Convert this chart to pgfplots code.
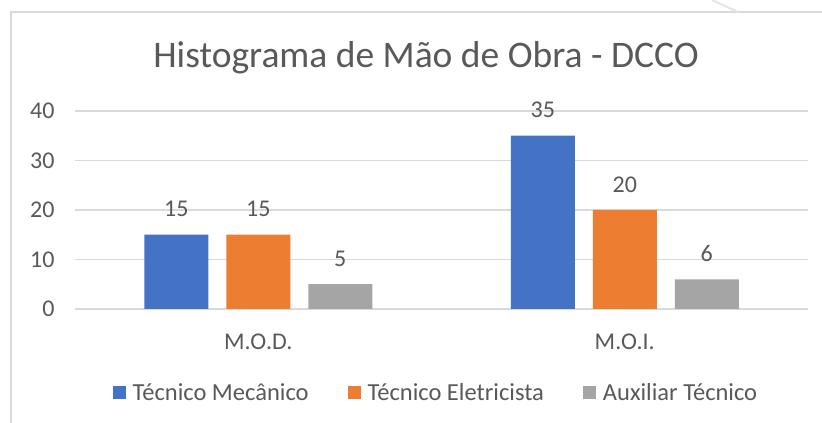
\documentclass[border=0pt]{standalone}
\usepackage{fontspec}
\setmainfont{Carlito}
\usepackage{pgfplots}
\pgfplotsset{compat=1.18}
\definecolor{cblue}{HTML}{4472C4}
\definecolor{corange}{HTML}{ED7D31}
\definecolor{cgray}{HTML}{A5A5A5}
\definecolor{ctext}{HTML}{595959}
\definecolor{cgrid}{HTML}{D9D9D9}
\begin{document}
\begin{tikzpicture}[x=1pt,y=1pt]
\useasboundingbox (0,0) rectangle (822,423);
\fill[white] (0,0) rectangle (822,423);
\draw[cgrid, line width=1.2pt] (11,0) -- (11,411) -- (822,411);
\draw[black!10, line width=2pt] (712,423) -- (738,411);
\begin{axis}[
  at={(75pt,114pt)}, anchor=south west,
  scale only axis, width=733pt, height=198pt,
  ymin=0, ymax=40, xmin=-0.5, xmax=1.5,
  ytick={0,10,20,30,40}, xtick={0,1}, xticklabels={M.O.D.,M.O.I.},
  ymajorgrids, grid style={cgrid, line width=1.2pt},
  axis line style={draw=none}, major tick style={draw=none},
  ybar=18pt, bar width=64pt,
  tick label style={font=\fontsize{24}{28}\selectfont, text=ctext},
  /pgf/number format/assume math mode=true,
  yticklabel style={xshift=-17pt},
  xticklabel style={yshift=-17pt},
  nodes near coords,
  nodes near coords style={font=\fontsize{24}{28}\selectfont, text=ctext, inner sep=0pt, anchor=south, yshift=17.5pt},
  legend columns=3,
  legend style={at={(0.491,-0.424)}, anchor=center, draw=none, fill=none,
    font=\fontsize{24.5}{28}\selectfont, text=ctext, nodes={inner sep=0pt},
    /tikz/every odd column/.append style={column sep=7pt},
    /tikz/every even column/.append style={column sep=39pt}},
  legend image code/.code={\fill[#1] (0pt,-6.5pt) rectangle (13pt,6.5pt);},
]
\addplot[fill=cblue, draw=none] coordinates {(0,15) (1,35)};
\addplot[fill=corange, draw=none] coordinates {(0,15) (1,20)};
\addplot[fill=cgray, draw=none] coordinates {(0,5) (1,6)};
\legend{Técnico Mecânico, Técnico Eletricista, Auxiliar Técnico}
\end{axis}
\node[anchor=base, text=ctext, font=\fontsize{37.5}{42}\selectfont] at (426,355) {Histograma de Mão de Obra - DCCO};
\end{tikzpicture}
\end{document}
